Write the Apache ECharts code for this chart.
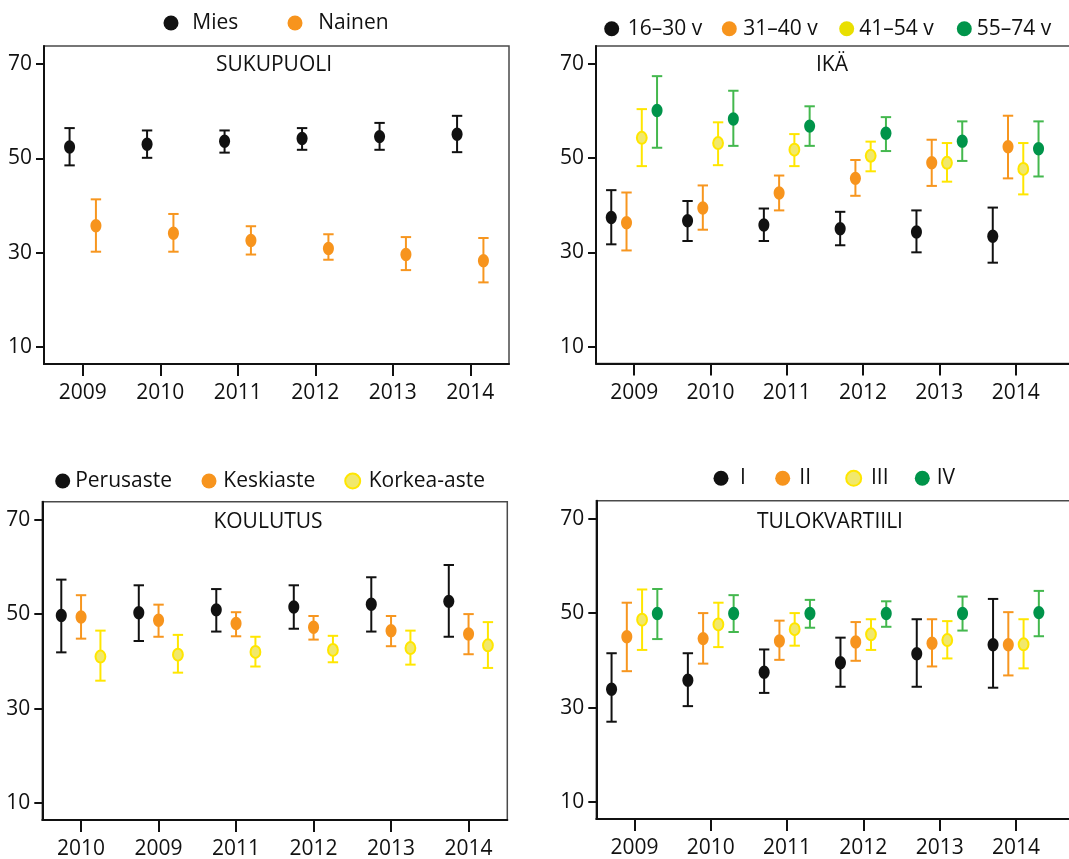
<!DOCTYPE html>
<html>
<head>
<meta charset="utf-8">
<script src="https://cdn.jsdelivr.net/npm/echarts@6/dist/echarts.min.js"></script>
<style>
html,body{margin:0;padding:0;background:#fff;}
#chart{width:1069px;height:859px;}
</style>
</head>
<body>
<div id="chart"></div>
<script>
// ---------- DATA ----------
const years = ['2009', '2010', '2011', '2012', '2013', '2014'];
const yearNums = [2009, 2010, 2011, 2012, 2013, 2014];
const eduYears = ['2010', '2009', '2011', '2012', '2013', '2014'];
const yTicks = [10, 30, 50, 70];

// SUKUPUOLI
const miesMean = [52.4, 53.0, 53.6, 54.2, 54.6, 55.1];
const miesLow = [48.5, 50.1, 51.2, 51.8, 51.8, 51.3];
const miesHigh = [56.4, 55.9, 55.9, 56.4, 57.5, 59.0];
const nainenMean = [35.7, 34.1, 32.6, 30.9, 29.6, 28.3];
const nainenLow = [30.2, 30.2, 29.6, 28.5, 26.3, 23.7];
const nainenHigh = [41.3, 38.2, 35.6, 33.9, 33.3, 33.1];

// IKÄ
const age1630Mean = [37.4, 36.7, 35.8, 35.0, 34.3, 33.4];
const age1630Low = [31.7, 32.4, 32.4, 31.5, 30.0, 27.8];
const age1630High = [43.2, 40.9, 39.3, 38.6, 38.9, 39.5];
const age3140Mean = [36.3, 39.4, 42.6, 45.7, 49.0, 52.4];
const age3140Low = [30.4, 34.8, 38.9, 42.0, 44.1, 45.7];
const age3140High = [42.7, 44.2, 46.3, 49.6, 53.9, 59.0];
const age4154Mean = [54.3, 53.2, 51.8, 50.5, 49.0, 47.7];
const age4154Low = [48.3, 48.5, 48.3, 47.2, 45.0, 42.3];
const age4154High = [60.4, 57.6, 55.1, 53.5, 53.2, 53.2];
const age5574Mean = [60.1, 58.3, 56.8, 55.3, 53.6, 52.0];
const age5574Low = [52.2, 52.6, 52.6, 51.5, 49.4, 46.1];
const age5574High = [67.4, 64.3, 61.0, 58.7, 57.8, 57.8];

// KOULUTUS
const perusMean = [49.7, 50.3, 50.9, 51.5, 52.1, 52.7];
const perusLow = [41.9, 44.3, 46.3, 46.9, 46.3, 45.2];
const perusHigh = [57.3, 56.1, 55.3, 56.1, 57.8, 60.4];
const keskiMean = [49.4, 48.7, 48.0, 47.2, 46.5, 45.8];
const keskiLow = [44.8, 45.2, 45.3, 44.6, 43.2, 41.5];
const keskiHigh = [54.0, 52.0, 50.4, 49.6, 49.6, 50.0];
const korkeaMean = [41.0, 41.4, 42.0, 42.4, 42.8, 43.4];
const korkeaLow = [35.9, 37.6, 38.9, 39.8, 39.3, 38.6];
const korkeaHigh = [46.5, 45.6, 45.2, 45.4, 46.5, 48.3];

// TULOKVARTIILI
const q1Mean = [33.9, 35.8, 37.5, 39.5, 41.4, 43.3];
const q1Low = [27.0, 30.3, 33.1, 34.4, 34.4, 34.2];
const q1High = [41.5, 41.5, 42.3, 44.8, 48.7, 53.0];
const q2Mean = [45.0, 44.6, 44.1, 43.9, 43.6, 43.3];
const q2Low = [37.7, 39.3, 40.1, 39.9, 38.7, 36.8];
const q2High = [52.2, 50.0, 48.4, 48.1, 48.7, 50.2];
const q3Mean = [48.6, 47.6, 46.6, 45.5, 44.3, 43.4];
const q3Low = [42.2, 42.8, 43.1, 42.2, 40.4, 38.3];
const q3High = [55.0, 52.2, 50.0, 48.7, 48.3, 48.7];
const q4Mean = [49.9, 49.9, 49.9, 49.9, 49.9, 50.1];
const q4Low = [44.5, 46.0, 46.9, 47.1, 46.3, 45.1];
const q4High = [55.1, 53.8, 52.8, 52.5, 53.5, 54.7];

// ---------- STYLE ----------
const FONT = '"Open Sans", "Noto Sans", sans-serif';
const FS = 21;
const TXT = '#111111';
const C = {
  black: {fill: '#111111', stroke: null, bar: '#111111', legend: '#111111'},
  orange: {fill: '#f7941d', stroke: null, bar: '#f7961f', legend: '#f7941d'},
  yellow: {fill: '#f1e86c', stroke: '#ffe600', bar: '#ffe600', legend: '#e9df00'},
  yellowL: {fill: '#f1e86c', stroke: '#ffe600', bar: '#ffe600', legend: '#f1e86c'},
  green: {fill: '#00944a', stroke: null, bar: '#44b84e', legend: '#00944a'}
};

function makeRender(offset, col) {
  return function (params, api) {
    const xv = api.value(0);
    const c = api.coord([xv, api.value(1)]);
    const lo = api.coord([xv, api.value(2)]);
    const hi = api.coord([xv, api.value(3)]);
    const band = api.size([1, 0])[0];
    const x = c[0] + offset * band;
    const cap = 5.2;
    const ls = {stroke: col.bar, lineWidth: 2};
    return {
      type: 'group',
      children: [
        {type: 'line', shape: {x1: x, y1: lo[1], x2: x, y2: hi[1]}, style: ls},
        {type: 'line', shape: {x1: x - cap, y1: hi[1], x2: x + cap, y2: hi[1]}, style: ls},
        {type: 'line', shape: {x1: x - cap, y1: lo[1], x2: x + cap, y2: lo[1]}, style: ls},
        {type: 'ellipse', shape: {cx: x, cy: c[1], rx: col.stroke ? 4.9 : 5.5, ry: col.stroke ? 6.0 : 6.7},
          style: {fill: col.fill, stroke: col.stroke || null, lineWidth: col.stroke ? 2 : 0}}
      ]
    };
  };
}

function buildSeries(name, panel, xs, mean, low, high, offset, col) {
  return {
    type: 'custom',
    name: name,
    xAxisIndex: panel,
    yAxisIndex: panel,
    clip: false,
    itemStyle: {color: col.legend},
    renderItem: makeRender(offset, col),
    encode: {x: 0, y: [1, 2, 3]},
    data: mean.map((m, i) => [xs[i], m, low[i], high[i]])
  };
}

const idx = years.map((y, i) => i);

const series = [
  buildSeries('Mies', 0, idx, miesMean, miesLow, miesHigh, -0.17, C.black),
  buildSeries('Nainen', 0, idx, nainenMean, nainenLow, nainenHigh, 0.17, C.orange),

  buildSeries('16–30 v', 1, yearNums, age1630Mean, age1630Low, age1630High, -0.3, C.black),
  buildSeries('31–40 v', 1, yearNums, age3140Mean, age3140Low, age3140High, -0.1, C.orange),
  buildSeries('41–54 v', 1, yearNums, age4154Mean, age4154Low, age4154High, 0.1, C.yellow),
  buildSeries('55–74 v', 1, yearNums, age5574Mean, age5574Low, age5574High, 0.3, C.green),

  buildSeries('Perusaste', 2, idx, perusMean, perusLow, perusHigh, -0.255, C.black),
  buildSeries('Keskiaste', 2, idx, keskiMean, keskiLow, keskiHigh, 0, C.orange),
  buildSeries('Korkea-aste', 2, idx, korkeaMean, korkeaLow, korkeaHigh, 0.25, C.yellowL),

  buildSeries('I', 3, yearNums, q1Mean, q1Low, q1High, -0.3, C.black),
  buildSeries('II', 3, yearNums, q2Mean, q2Low, q2High, -0.1, C.orange),
  buildSeries('III', 3, yearNums, q3Mean, q3Low, q3High, 0.1, C.yellowL),
  buildSeries('IV', 3, yearNums, q4Mean, q4Low, q4High, 0.3, C.green)
];

// ---------- LAYOUT ----------
const grids = [
  {left: 44, top: 46, width: 465, height: 318},
  {left: 596, top: 46, width: 500, height: 317.5},
  {left: 42.3, top: 501.7, width: 465, height: 318.3},
  {left: 596.3, top: 500.7, width: 500, height: 318.3}
];
const pxPerYear = 76.3;

const gridOpts = grids.map(g => Object.assign({}, g, {
  show: true, borderColor: '#4a4a4a', borderWidth: 1.5, backgroundColor: 'transparent',
  containLabel: false, outerBoundsMode: 'none'
}));

const axisLineStyle = {show: true, lineStyle: {color: TXT, width: 2}};
const tickStyle = {color: TXT, width: 2};
const labelStyle = {color: TXT, fontSize: FS, fontFamily: FONT};

function catX(gridIndex, cats) {
  return {
    type: 'category', gridIndex: gridIndex, data: cats, boundaryGap: true,
    axisLine: axisLineStyle,
    axisTick: {show: true, alignWithLabel: true, length: 12, lineStyle: tickStyle},
    axisLabel: Object.assign({margin: 19, interval: 0}, labelStyle),
    splitLine: {show: false}
  };
}
function valX(gridIndex, width) {
  return {
    type: 'value', gridIndex: gridIndex, min: 2008.5, max: 2008.5 + width / pxPerYear,
    axisLine: axisLineStyle,
    axisTick: {show: true, length: 12, lineStyle: tickStyle, customValues: yearNums},
    axisLabel: Object.assign({margin: 19, customValues: yearNums, formatter: v => String(v)}, labelStyle),
    splitLine: {show: false}
  };
}
function valY(gridIndex) {
  return {
    type: 'value', gridIndex: gridIndex, min: 6.4, max: 73.8,
    axisLine: axisLineStyle,
    axisTick: {show: true, length: 8, lineStyle: tickStyle, customValues: yTicks},
    axisLabel: Object.assign({margin: 12, customValues: yTicks}, labelStyle),
    splitLine: {show: false}
  };
}

const titles = [
  {text: 'SUKUPUOLI', x: 274, y: 65},
  {text: 'IKÄ', x: 832, y: 65},
  {text: 'KOULUTUS', x: 268, y: 522},
  {text: 'TULOKVARTIILI', x: 830, y: 522}
];

const legendLayout = [
  {name: 'Mies', x: 171, y: 22, pad: 8.8},
  {name: 'Nainen', x: 295, y: 22, pad: 10.8},
  {name: '16–30 v', x: 611.7, y: 27.7, pad: 3.5},
  {name: '31–40 v', x: 729.3, y: 27.7, pad: 1.5},
  {name: '41–54 v', x: 846.7, y: 27.7, pad: 0},
  {name: '55–74 v', x: 964.3, y: 27.7, pad: 0},
  {name: 'Perusaste', x: 62.7, y: 480, pad: 0},
  {name: 'Keskiaste', x: 209, y: 480, pad: 1.8},
  {name: 'Korkea-aste', x: 351.7, y: 480, pad: 3.5, ring: true},
  {name: 'I', x: 721, y: 477.3, pad: 6.5},
  {name: 'II', x: 782.7, y: 477.3, pad: 4.1},
  {name: 'III', x: 852.7, y: 477.3, pad: 4.8, ring: true},
  {name: 'IV', x: 922.3, y: 477.3, pad: 1.9}
];

const legends = legendLayout.map(l => ({
  data: [l.ring
    ? {name: l.name, icon: 'circle', itemStyle: {color: '#f1e86c', borderColor: '#ffe600', borderWidth: 2}}
    : {name: l.name, icon: 'circle'}],
  left: l.x - 7.5,
  top: l.y - 10,
  padding: 0,
  itemWidth: 15,
  itemHeight: 15,
  selectedMode: false,
  textStyle: {color: TXT, fontSize: FS, fontFamily: FONT, lineHeight: 22, padding: [0, 0, 0, l.pad]}
}));

const option = {
  animation: false,
  backgroundColor: '#ffffff',
  grid: gridOpts,
  xAxis: [catX(0, years), valX(1, grids[1].width), catX(2, eduYears), valX(3, grids[3].width)],
  yAxis: [valY(0), valY(1), valY(2), valY(3)],
  legend: legends,
  graphic: titles.map(t => ({
    type: 'text', x: t.x, y: t.y, silent: true,
    style: {text: t.text, fill: TXT, fontSize: FS, fontFamily: FONT, align: 'center', verticalAlign: 'middle'}
  })),
  series: series
};

const chart = echarts.init(document.getElementById('chart'), null, {renderer: 'canvas'});
chart.setOption(option);
</script>
</body>
</html>
